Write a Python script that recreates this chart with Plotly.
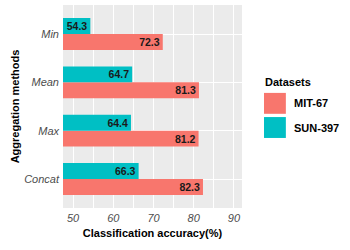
import plotly.graph_objects as go

methods = ["Concat", "Max", "Mean", "Min"]
mit67 = [82.3, 81.2, 81.3, 72.3]
sun397 = [66.3, 64.4, 64.7, 54.3]
series_names = ["MIT-67", "SUN-397"]
colors = ["#F8766D", "#00BFC4"]

fig = go.Figure()
for name, vals, col in zip(series_names, [mit67, sun397], colors):
    fig.add_trace(go.Bar(
        y=methods, x=vals, orientation="h", name=name,
        marker=dict(color=col, line=dict(width=0)),
        text=[f"{v:.1f}" for v in vals], textposition="inside",
        insidetextanchor="end", constraintext="none",
        textfont=dict(family="Liberation Sans", size=10.5, color="#1a1a1a", weight="bold"),
        showlegend=False,
    ))

fig.update_layout(
    width=350, height=250,
    margin=dict(l=63, r=108, t=5, b=42, autoexpand=False),
    barmode="group", bargap=0.34, bargroupgap=0,
    plot_bgcolor="#EBEBEB", paper_bgcolor="white",
    font=dict(family="Liberation Sans", size=11, color="black"),
    xaxis=dict(
        range=[47.5, 92], tickvals=[50, 60, 70, 80, 90],
        tickfont=dict(size=11, color="#4D4D4D", style="italic"),
        showgrid=True, gridcolor="white", gridwidth=1,
        minor=dict(tickvals=[55, 65, 75, 85], showgrid=True, gridcolor="white", gridwidth=0.5),
        zeroline=False, ticks="", automargin=False, ticklabelstandoff=2,
        title=dict(text="<b>Classification accuracy(%)</b>", font=dict(size=11), standoff=6),
    ),
    yaxis=dict(
        categoryorder="array", categoryarray=methods, range=[-0.6, 3.6],
        tickfont=dict(size=11, color="#4D4D4D", style="italic"),
        showgrid=True, gridcolor="white", gridwidth=1,
        ticks="", ticklabelstandoff=3, automargin=False,
        title=dict(text="<b>Aggregation methods</b>", font=dict(size=11), standoff=2),
    ),
)

# legend drawn in paper coordinates
fig.add_annotation(xref="paper", yref="paper", x=1.118, y=0.58, xanchor="left", yanchor="bottom",
                   text="<b>Datasets</b>", showarrow=False, font=dict(size=11))
key_top = [0.567, 0.448]
for name, col, yt in zip(series_names, colors, key_top):
    fig.add_shape(type="rect", xref="paper", yref="paper",
                  x0=1.123, x1=1.245, y0=yt - 0.103, y1=yt, fillcolor=col, line=dict(width=0))
    fig.add_annotation(xref="paper", yref="paper", x=1.28, y=yt - 0.052, xanchor="left", yanchor="middle",
                       text=f"<b>{name}</b>", showarrow=False, font=dict(size=11))

fig.write_html("out.html", post_script="document.body.style.margin='0';",
               config={"displayModeBar": False})
